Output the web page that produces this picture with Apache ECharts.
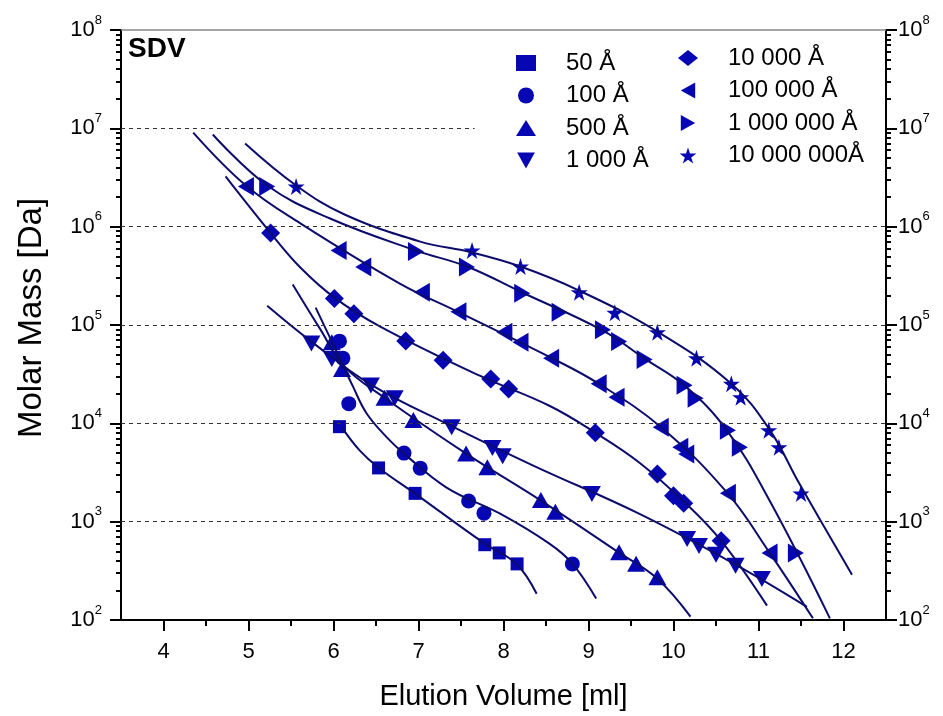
<!DOCTYPE html>
<html><head><meta charset="utf-8">
<script src="https://cdn.jsdelivr.net/npm/echarts@6/dist/echarts.min.js"></script>
<style>html,body{margin:0;padding:0;background:#fff}#c{width:943px;height:716px}</style>
</head><body><div id="c"></div>
<script>
// ---- data (elution volume [ml], molar mass [Da]) ----
const seriesNames = ['50 Å','100 Å','500 Å','1 000 Å','10 000 Å','100 000 Å','1 000 000 Å','10 000 000Å'];

// measured standards (markers)
const pts50  = [[6.07,9250],[6.53,3520],[6.96,1940],[7.78,583],[7.95,481],[8.16,372]];
const pts100 = [[6.07,68500],[6.11,46000],[6.18,15850],[6.83,4980],[7.02,3500],[7.59,1620],[7.77,1220],[8.81,372]];
const pts500 = [[5.98,66700],[6.10,35700],[6.60,18200],[6.94,10800],[7.56,4920],[7.81,3570],[8.44,1660],[8.61,1265],[9.36,488],[9.56,374],[9.81,272]];
const pts1000 = [[5.74,64700],[5.98,45200],[6.44,24200],[6.72,18000],[7.39,9100],[7.87,5600],[7.99,4640],[9.04,1915],[10.16,667],[10.30,564],[10.50,462],[10.73,357],[11.04,261]];
const pts1e4 = [[5.26,861000],[6.01,186000],[6.24,130000],[6.85,68900],[7.29,43700],[7.85,28300],[8.06,22400],[9.08,8000],[9.81,3050],[10.00,1840],[10.12,1540],[10.56,641]];
const pts1e5 = [[4.97,2560000],[6.06,571000],[6.35,390000],[7.04,215000],[7.47,136000],[8.01,84300],[8.20,66700],[8.56,46000],[9.12,25200],[9.33,18400],[9.85,9100],[10.08,5700],[10.15,4890],[10.64,1950],[11.13,479]];
const pts1e6 = [[5.22,2560000],[6.97,558000],[7.57,390000],[8.22,210000],[8.66,135000],[9.17,89700],[9.36,68100],[9.66,44500],[10.13,24400],[10.26,18000],[10.64,8490],[10.78,5700],[11.44,479]];
const pts1e7 = [[5.56,2560000],[7.63,571000],[8.20,393000],[8.89,215000],[9.31,133000],[9.81,84300],[10.27,46000],[10.68,25200],[10.79,18400],[11.12,8490],[11.24,5700],[11.50,1930]];

// calibration curves
const fit50  = [[6.10,9040],[6.31,5270],[6.53,3540],[6.96,1930],[7.78,597],[8.15,374],[8.39,185]];
const fit100 = [[5.79,150000],[6.02,57500],[6.23,23600],[6.39,12600],[6.63,7160],[6.83,4920],[7.33,2220],[7.96,1205],[8.54,597],[8.81,374],[9.09,165]];
const fit500 = [[5.52,258000],[5.84,91800],[6.13,37700],[6.60,18200],[7.56,4920],[8.44,1640],[9.36,484],[9.81,263],[10.20,108]];
const fit1000 = [[5.22,157000],[5.74,67800],[6.44,24800],[7.39,9380],[8.35,3720],[9.60,1200],[10.73,366],[11.57,136]];
const fit1e4 = [[4.73,3240000],[5.26,861000],[5.61,384000],[6.01,190000],[6.55,96400],[7.72,30500],[8.54,15100],[9.08,8030],[9.60,3980],[10.15,1520],[10.56,641],[11.10,140]];
const fit1e5 = [[4.35,9060000],[4.97,2620000],[5.61,1080000],[6.78,264000],[7.46,137000],[8.57,46000],[9.12,25300],[9.86,9040],[10.63,1970],[11.13,484],[11.64,104]];
const fit1e6 = [[4.58,8650000],[5.22,2620000],[5.96,1210000],[6.97,571000],[7.57,393000],[8.22,214000],[9.17,87700],[9.66,45500],[10.13,24200],[10.63,8430],[11.13,1640],[11.84,104]];
const fit1e7 = [[4.96,7000000],[5.56,2620000],[6.13,1330000],[7.02,705000],[7.63,546000],[8.20,393000],[8.89,224000],[9.81,85700],[10.68,25300],[11.13,8630],[11.48,2440],[12.10,289]];

const xTickValues = [4,5,6,7,8,9,10,11,12];
const xMinorValues = [4.5,5.5,6.5,7.5,8.5,9.5,10.5,11.5];
const yTickValues = [1e2,1e3,1e4,1e5,1e6,1e7,1e8];
const gridDecades = [1e3,1e4,1e5,1e6];
const partialGridDecade = 1e7;

// ---- styling ----
const FONT = 'Liberation Sans, Arial, sans-serif';
const MARK = '#0606b2';
const LINE = '#0c0c6c';
const STAR = 'path://M50,0 L61.23,34.55 L97.55,34.55 L68.17,55.9 L79.39,90.45 L50,69.1 L20.61,90.45 L31.83,55.9 L2.45,34.55 L38.77,34.55 Z';
const TRI_DOWN = 'path://M0,0 L20,0 L10,18 Z';
const TRI_LEFT = 'path://M18,0 L18,20 L0,10 Z';
const TRI_RIGHT = 'path://M0,0 L18,10 L0,20 Z';

const yMinor = [];
for (let e = 2; e < 8; e++) for (let m = 2; m <= 9; m++) yMinor.push(m * Math.pow(10, e));

const sets = [
  {pts: pts50,  fit: fit50,  symbol: 'rect',     size: 13},
  {pts: pts100, fit: fit100, symbol: 'circle',   size: 15},
  {pts: pts500, fit: fit500, symbol: 'triangle', size: [18,16]},
  {pts: pts1000,fit: fit1000,symbol: TRI_DOWN,   size: [18,16]},
  {pts: pts1e4, fit: fit1e4, symbol: 'diamond',  size: [19,19]},
  {pts: pts1e5, fit: fit1e5, symbol: TRI_LEFT,   size: [16,19]},
  {pts: pts1e6, fit: fit1e6, symbol: TRI_RIGHT,  size: [16,19]},
  {pts: pts1e7, fit: fit1e7, symbol: STAR,       size: 17}
];

const series = [];
series.push({
  type: 'line', data: [], z: 1, silent: true,
  markLine: {
    symbol: 'none', silent: true, label: {show: false}, animation: false,
    lineStyle: {color: '#333', type: [4,4], width: 1},
    data: gridDecades.map(v => [{coord: [3.5, v]}, {coord: [12.5, v]}])
      .concat([[{coord: [3.5, partialGridDecade]}, {coord: [7.66, partialGridDecade]}]])
  }
});
sets.forEach((s, i) => {
  series.push({
    name: seriesNames[i], type: 'scatter', data: s.pts, z: 2,
    symbol: s.symbol, symbolSize: s.size, symbolKeepAspect: false,
    itemStyle: {color: MARK, opacity: 1}
  });
  series.push({
    name: seriesNames[i] + ' fit', type: 'line', data: s.fit, z: 3,
    showSymbol: false, symbol: 'none', smooth: 0.4,
    lineStyle: {color: LINE, width: 2}
  });
});

const yFmt = v => '{b|10}{e|' + Math.round(Math.log10(v)) + '}';
const yRich = {
  b: {fontSize: 22, fontFamily: FONT, color: '#000'},
  e: {fontSize: 13, fontFamily: FONT, color: '#000', padding: [0,0,20,0]}
};
const baseY = {type: 'log', logBase: 10, min: 100, max: 1e8, splitLine: {show: false}, minorTick: {show: false}, minorSplitLine: {show: false}};

const legendBase = {
  orient: 'vertical', itemWidth: 20, itemHeight: 16, itemGap: 8.5, padding: 0, selectedMode: false,
  textStyle: {fontSize: 24, lineHeight: 24, fontFamily: FONT, color: '#000', padding: [0,0,0,25]}
};
const legendItems = seriesNames.map((n, i) => ({name: n, icon: sets[i].symbol}));

const option = {
  animation: false,
  backgroundColor: '#fff',
  title: {text: 'SDV', left: 128, top: 35, padding: 0, textStyle: {fontSize: 28, fontWeight: 'bold', fontFamily: FONT, color: '#000'}},
  legend: [
    Object.assign({}, legendBase, {data: legendItems.slice(0,4), left: 516, top: 51}),
    Object.assign({}, legendBase, {data: legendItems.slice(4), left: 678, top: 46})
  ],
  grid: {left: 121, right: 57, top: 30, bottom: 96, containLabel: false},
  xAxis: [
    {type: 'value', min: 3.5, max: 12.5, position: 'bottom',
     name: 'Elution Volume [ml]', nameLocation: 'middle', nameGap: 62,
     nameTextStyle: {fontSize: 29, fontFamily: FONT, color: '#000'},
     axisLine: {show: true, onZero: false, lineStyle: {color: '#000', width: 2}},
     axisTick: {show: true, inside: false, length: 11, customValues: xTickValues, lineStyle: {color: '#000', width: 2}},
     axisLabel: {show: true, customValues: xTickValues, fontSize: 22, fontFamily: FONT, color: '#000', margin: 21},
     splitLine: {show: false}},
    {type: 'value', min: 3.5, max: 12.5, position: 'bottom',
     axisLine: {show: false, onZero: false},
     axisTick: {show: true, inside: false, length: 6, customValues: xMinorValues, lineStyle: {color: '#000', width: 2}},
     axisLabel: {show: false}, splitLine: {show: false}},
    {type: 'value', min: 3.5, max: 12.5, position: 'top',
     axisLine: {show: true, onZero: false, lineStyle: {color: '#888', width: 1.5}},
     axisTick: {show: false}, axisLabel: {show: false}, splitLine: {show: false}}
  ],
  yAxis: [
    Object.assign({}, baseY, {position: 'left',
      name: 'Molar Mass [Da]', nameLocation: 'middle', nameGap: 73, nameRotate: 90,
      nameTextStyle: {fontSize: 33, fontFamily: FONT, color: '#000', padding: [0,0,0,14]},
      axisLine: {show: true, onZero: false, lineStyle: {color: '#000', width: 2}},
      axisTick: {show: true, inside: false, length: 11, customValues: yTickValues, lineStyle: {color: '#000', width: 2}},
      axisLabel: {show: true, customValues: yTickValues, formatter: yFmt, rich: yRich, margin: 19}}),
    Object.assign({}, baseY, {position: 'left',
      axisLine: {show: false, onZero: false},
      axisTick: {show: true, inside: false, length: 5, customValues: yMinor, lineStyle: {color: '#000', width: 2}},
      axisLabel: {show: false}}),
    Object.assign({}, baseY, {position: 'right',
      axisLine: {show: true, onZero: false, lineStyle: {color: '#000', width: 2}},
      axisTick: {show: true, inside: false, length: 11, customValues: yTickValues, lineStyle: {color: '#000', width: 2}},
      axisLabel: {show: true, customValues: yTickValues, formatter: yFmt, rich: yRich, margin: 12}}),
    Object.assign({}, baseY, {position: 'right',
      axisLine: {show: false, onZero: false},
      axisTick: {show: true, inside: false, length: 5, customValues: yMinor, lineStyle: {color: '#000', width: 2}},
      axisLabel: {show: false}})
  ],
  series: series
};

const chart = echarts.init(document.getElementById('c'), null, {renderer: 'canvas'});
chart.setOption(option);
</script>
</body></html>
